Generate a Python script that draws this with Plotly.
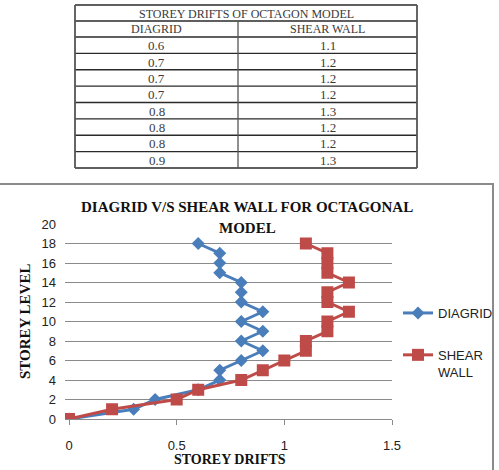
import plotly.graph_objects as go

storey = list(range(0, 19))
diagrid = [0, 0.3, 0.4, 0.6, 0.7, 0.7, 0.8, 0.9, 0.8, 0.9, 0.8, 0.9, 0.8, 0.8, 0.8, 0.7, 0.7, 0.7, 0.6]
shear_wall = [0, 0.2, 0.5, 0.6, 0.8, 0.9, 1.0, 1.1, 1.1, 1.2, 1.2, 1.3, 1.2, 1.2, 1.3, 1.2, 1.2, 1.2, 1.1]

table_title = "STOREY DRIFTS OF OCTAGON MODEL"
table_headers = ["DIAGRID", "SHEAR WALL"]
table_diagrid = ["0.6", "0.7", "0.7", "0.7", "0.8", "0.8", "0.8", "0.9"]
table_shear = ["1.1", "1.2", "1.2", "1.2", "1.3", "1.2", "1.2", "1.3"]

W, H = 499, 470
def px(x):
    return x / W
def py(y):
    return 1 - y / H

BLUE = "#4A7EBB"
RED = "#BE4B48"
TXT = "#3a3a3a"
TLINE = "#2a2a2a"

fig = go.Figure()

fig.add_trace(go.Scatter(
    x=diagrid, y=storey, name="DIAGRID", mode="lines+markers", legendgroup="a",
    line=dict(color=BLUE, width=3),
    marker=dict(symbol="diamond", size=10, color=BLUE),
))
fig.add_trace(go.Scatter(
    x=shear_wall, y=storey, name="SHEAR<br>WALL", mode="lines+markers", legendgroup="b",
    line=dict(color=RED, width=3),
    marker=dict(symbol="square", size=12, color=RED),
))

shapes = []
annotations = []

# ---- table (drawn with shapes + annotations) ----
tx0, tmid, tx1 = 75, 238, 417
n_rows = len(table_diagrid)
body_top, body_bot = 37, 168
rh = (body_bot - body_top) / n_rows
row_edges = [5, 21, 37] + [body_top + rh * (i + 1) for i in range(n_rows)]

for yy in row_edges:
    shapes.append(dict(type="line", xref="paper", yref="paper", x0=px(tx0), x1=px(tx1), y0=py(yy), y1=py(yy),
                       line=dict(color=TLINE, width=1.3)))
for xx in (tx0, tx1):
    shapes.append(dict(type="line", xref="paper", yref="paper", x0=px(xx), x1=px(xx), y0=py(5), y1=py(168),
                       line=dict(color="#555", width=1.8)))
shapes.append(dict(type="line", xref="paper", yref="paper", x0=px(tmid), x1=px(tmid), y0=py(21), y1=py(168),
                   line=dict(color="#555", width=1.3)))

annotations.append(dict(text=table_title, x=px((tx0 + tx1) / 2), y=py(13.5), xref="paper", yref="paper",
                        showarrow=False, font=dict(family="Liberation Serif", size=12, color=TXT),
                        xanchor="center", yanchor="middle"))
col_centers = [(tx0 + tmid) / 2, (tmid + tx1) / 2]
for cx, hdr in zip(col_centers, table_headers):
    annotations.append(dict(text=hdr, x=px(cx), y=py(29.5), xref="paper", yref="paper",
                            showarrow=False, font=dict(family="Liberation Serif", size=12, color=TXT),
                            xanchor="center", yanchor="middle"))
for col, cx in zip([table_diagrid, table_shear], col_centers):
    for i, v in enumerate(col):
        cy = body_top + rh * (i + 0.5)
        annotations.append(dict(text=v, x=px(cx), y=py(cy + 0.5), xref="paper", yref="paper",
                                showarrow=False, font=dict(family="Liberation Serif", size=13, color=TXT),
                                xanchor="center", yanchor="middle"))

# chart border
shapes.append(dict(type="rect", xref="paper", yref="paper", x0=px(-2), x1=px(493), y0=py(480), y1=py(184),
                   line=dict(color="#8a8a8a", width=2), fillcolor="rgba(0,0,0,0)"))

annotations += [
    dict(text="<b>DIAGRID V/S SHEAR WALL FOR OCTAGONAL</b>", x=px(247), y=py(207), xref="paper", yref="paper",
         showarrow=False, font=dict(family="Liberation Serif", size=15, color="#111"), xanchor="center", yanchor="middle"),
    dict(text="<b>MODEL</b>", x=px(247), y=py(228), xref="paper", yref="paper",
         showarrow=False, font=dict(family="Liberation Serif", size=15, color="#111"), xanchor="center", yanchor="middle"),
    dict(text="<b>STOREY DRIFTS</b>", x=px(230), y=py(459), xref="paper", yref="paper",
         showarrow=False, font=dict(family="Liberation Serif", size=14, color="#111"), xanchor="center", yanchor="middle"),
    dict(text="<b>STOREY LEVEL</b>", x=px(25), y=py(322), xref="paper", yref="paper", textangle=-90,
         showarrow=False, font=dict(family="Liberation Serif", size=15, color="#111"), xanchor="center", yanchor="middle"),
]

fig.update_layout(
    width=W, height=H,
    margin=dict(l=0, r=0, t=0, b=0, autoexpand=False),
    paper_bgcolor="white", plot_bgcolor="white",
    showlegend=True,
    legend=dict(x=px(398), y=py(298), xanchor="left", yanchor="top", valign="top",
                font=dict(family="Liberation Sans", size=13, color="#222"),
                bgcolor="rgba(0,0,0,0)", tracegroupgap=22, itemwidth=30),
    shapes=shapes,
    annotations=annotations,
    xaxis=dict(domain=[px(65), px(392)], range=[-0.0186, 1.5], tickvals=[0, 0.5, 1, 1.5],
               ticktext=["0", "0.5", "1", "1.5"], automargin=False,
               showgrid=False, zeroline=False, showline=True, linecolor="#8a8a8a", linewidth=1,
               ticks="outside", ticklen=5, tickcolor="#8a8a8a", ticklabelstandoff=9,
               tickfont=dict(family="Liberation Sans", size=13, color="#222"), fixedrange=True),
    yaxis=dict(domain=[py(419), py(224)], range=[0, 20], dtick=2, automargin=False,
               showgrid=True, gridcolor="#8a8a8a", gridwidth=1, zeroline=False, showline=False,
               ticks="", ticklabelstandoff=8,
               tickfont=dict(family="Liberation Sans", size=13, color="#222"), fixedrange=True),
)

fig.write_html("out.html")
